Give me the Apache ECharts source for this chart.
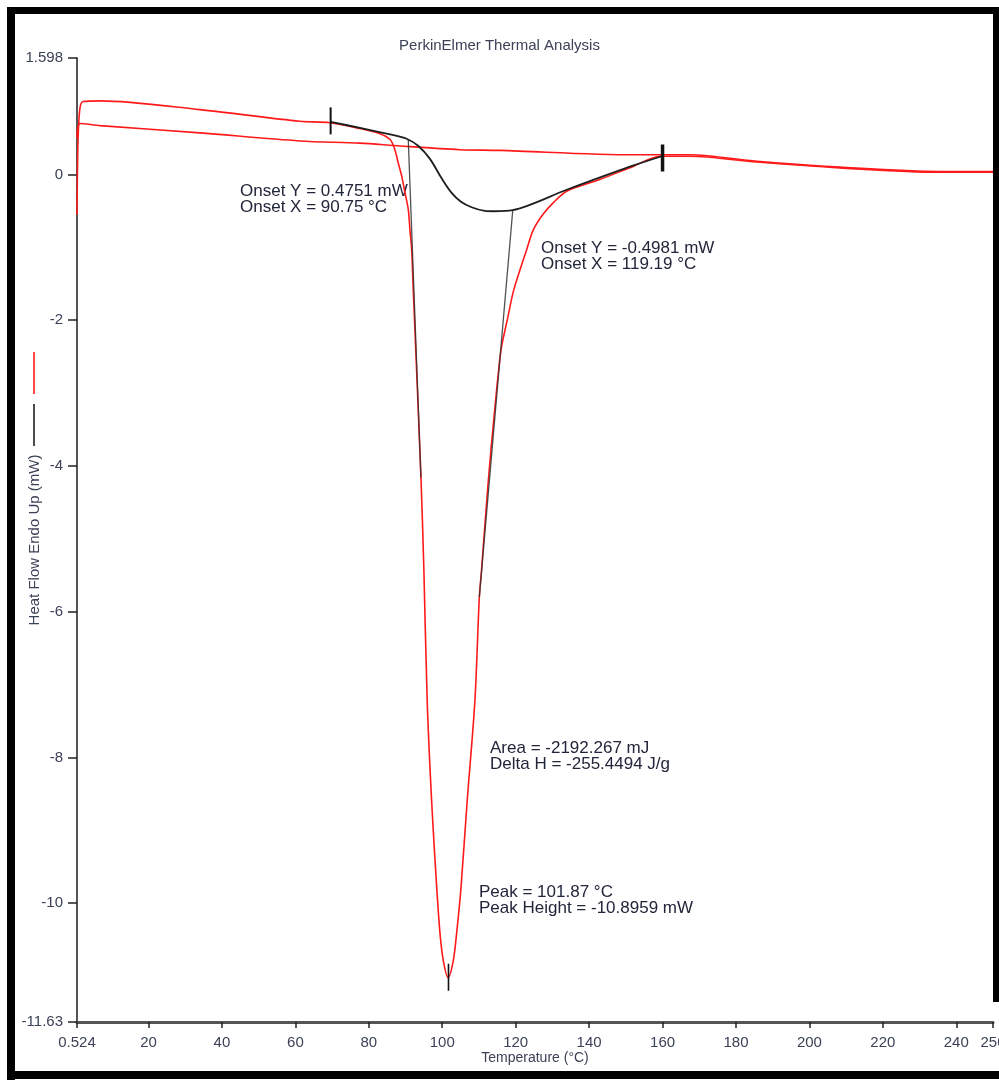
<!DOCTYPE html>
<html>
<head>
<meta charset="utf-8">
<script src="https://cdn.jsdelivr.net/npm/echarts@6/dist/echarts.min.js"></script>
<style>
html,body{margin:0;padding:0;background:#fff;}
#chart{width:999px;height:1080px;}
</style>
</head>
<body>
<div id="chart"></div>
<script>
// ---- Data ----
var run1Temp = [0.524,0.8,1.3,2.2,6.8,34.0,61.2,69.4,77.6,83.0,85.8,87.1,88.0,88.95,89.85,90.75,91.2,91.67,92.1,94.2,95.0,95.9,97.1,98.5,99.4,100.3,101.6,103.0,103.9,105.1,106.8,108.9,110.1,110.7,112.5,114.1,116.0,117.7,119.5,123.0,124.8,127.4,130.2,133.9,142.9,152.0,159.3,167.5,185.7,208.3,235.5,250];
var run1Flow = [-0.55,0.45,0.9,1.0,1.01,0.89,0.73,0.71,0.63,0.56,0.48,0.34,0.16,-0.02,-0.25,-0.48,-0.76,-1.03,-1.58,-4.15,-5.43,-7.22,-8.59,-9.79,-10.42,-10.79,-11.02,-10.79,-10.42,-9.79,-8.59,-7.22,-5.8,-5.43,-4.23,-3.33,-2.41,-2.0,-1.58,-1.03,-0.76,-0.55,-0.39,-0.23,-0.07,0.11,0.25,0.25,0.17,0.09,0.03,0.03];

var run2Temp = [0.524,1.34,6.8,34.0,61.2,77.6,88.5,104.8,115.7,152.0,159.3,167.5,185.7,208.3,235.5,250];
var run2Flow = [0.5,0.70,0.67,0.57,0.46,0.43,0.39,0.34,0.33,0.27,0.27,0.27,0.18,0.10,0.04,0.04];

var calcTemp = [69.6,77.6,85.8,90.3,93.5,96.7,99.8,102.5,105.0,108.0,111.6,114.0,119.19,133.9,151.9,159.8];
var calcFlow = [0.72,0.64,0.55,0.49,0.39,0.21,-0.05,-0.25,-0.37,-0.45,-0.50,-0.505,-0.49,-0.21,0.12,0.25];

var onset1Temp = [90.75,94.2];
var onset1Flow = [0.4751,-4.16];
var onset2Temp = [119.19,110.1];
var onset2Flow = [-0.4981,-5.8];

var startMarkTemp = [69.6,69.6];
var startMarkFlow = [0.92,0.55];
var endMarkTemp = [160,160];
var endMarkFlow = [0.41,0.04];
var peakMarkTemp = [101.7,101.7];
var peakMarkFlow = [-10.83,-11.2];

var xTicks = [0.524,20,40,60,80,100,120,140,160,180,200,220,240,250];
var yTicks = [1.598,0,-2,-4,-6,-8,-10,-11.63];

var titleText = 'PerkinElmer Thermal Analysis';
var xName = 'Temperature (\u00B0C)';
var yName = 'Heat Flow Endo Up (mW)';
var noteOnset1 = 'Onset Y = 0.4751 mW\nOnset X = 90.75 \u00B0C';
var noteOnset2 = 'Onset Y = -0.4981 mW\nOnset X = 119.19 \u00B0C';
var noteArea = 'Area = -2192.267 mJ\nDelta H = -255.4494 J/g';
var notePeak = 'Peak = 101.87 \u00B0C\nPeak Height = -10.8959 mW';

function pairs(xs, ys){ var o=[]; for (var i=0;i<xs.length;i++) o.push([xs[i], ys[i]]); return o; }

var FONT = '"Liberation Sans", Arial, sans-serif';
var labelColor = '#3b4257';
var noteStyle = {font: '17px ' + FONT, fill: '#22263a', lineHeight: 16};

var chart = echarts.init(document.getElementById('chart'), null, {renderer:'canvas'});
chart.setOption({
  animation: false,
  backgroundColor: '#ffffff',
  title: {
    text: titleText, left: 'center', top: 33,
    textStyle: {fontFamily: FONT, fontSize: 15, fontWeight: 'normal', color: '#3b4257'}
  },
  grid: {left: 77, right: 6, top: 58, bottom: 58, containLabel: false, outerBoundsMode: 'none'},
  xAxis: {
    type: 'value', min: 0.524, max: 250,
    name: xName, nameLocation: 'middle', nameGap: 29, nameMoveOverlap: false,
    nameTextStyle: {fontFamily: FONT, fontSize: 14, color: labelColor},
    axisLine: {onZero: false, lineStyle: {color: '#555', width: 3}},
    axisTick: {show: true, customValues: xTicks, length: 6, lineStyle: {color: '#222', width: 1.5}},
    axisLabel: {customValues: xTicks, margin: 13, fontFamily: FONT, fontSize: 15, color: labelColor,
      formatter: function(v){ return String(v); }},
    splitLine: {show: false}
  },
  yAxis: {
    type: 'value', min: -11.63, max: 1.598,
    name: yName, nameLocation: 'middle', nameGap: 35, nameRotate: 90, nameMoveOverlap: false,
    nameTextStyle: {fontFamily: FONT, fontSize: 15, color: labelColor},
    axisLine: {onZero: false, lineStyle: {color: '#555', width: 2}},
    axisTick: {show: true, customValues: yTicks, length: 9, lineStyle: {color: '#222', width: 1.5}},
    axisLabel: {customValues: yTicks, margin: 14, fontFamily: FONT, fontSize: 15, color: labelColor,
      formatter: function(v){ return String(v); }},
    splitLine: {show: false}
  },
  series: [
    {name: 'Run 2', type: 'line', data: pairs(run2Temp, run2Flow), showSymbol: false, smooth: 0.3,
      lineStyle: {color: '#ff1a1a', width: 1.6}, z: 2},
    {name: 'Run 1', type: 'line', data: pairs(run1Temp, run1Flow), showSymbol: false, smooth: 0.3,
      lineStyle: {color: '#ff1a1a', width: 1.6}, z: 3},
    {name: 'Calc', type: 'line', data: pairs(calcTemp, calcFlow), showSymbol: false, smooth: 0.3,
      lineStyle: {color: '#1e1e1e', width: 1.8}, z: 4},
    {name: 'Onset 1', type: 'line', data: pairs(onset1Temp, onset1Flow), showSymbol: false,
      lineStyle: {color: '#333', width: 1.3, opacity: 0.85}, z: 5},
    {name: 'Onset 2', type: 'line', data: pairs(onset2Temp, onset2Flow), showSymbol: false,
      lineStyle: {color: '#333', width: 1.3, opacity: 0.85}, z: 5},
    {name: 'Start', type: 'line', data: pairs(startMarkTemp, startMarkFlow), showSymbol: false,
      lineStyle: {color: '#111', width: 2}, z: 6},
    {name: 'End', type: 'line', data: pairs(endMarkTemp, endMarkFlow), showSymbol: false,
      lineStyle: {color: '#111', width: 3.5}, z: 6},
    {name: 'Peak', type: 'line', data: pairs(peakMarkTemp, peakMarkFlow), showSymbol: false,
      lineStyle: {color: '#111', width: 1.6}, z: 6}
  ],
  graphic: [
    {type: 'rect', shape: {x: 7, y: 7, width: 992, height: 7}, style: {fill: '#000'}},
    {type: 'rect', shape: {x: 7, y: 7, width: 8, height: 1073}, style: {fill: '#000'}},
    {type: 'rect', shape: {x: 7, y: 1071, width: 992, height: 8}, style: {fill: '#000'}},
    {type: 'rect', shape: {x: 993, y: 7, width: 6, height: 995}, style: {fill: '#000'}},
    {type: 'line', shape: {x1: 34, y1: 352, x2: 34, y2: 394}, style: {stroke: '#ff1a1a', lineWidth: 1.6}},
    {type: 'line', shape: {x1: 34, y1: 404, x2: 34, y2: 446}, style: {stroke: '#1e1e1e', lineWidth: 1.6}},
    {type: 'text', left: 240, top: 183, style: Object.assign({text: noteOnset1}, noteStyle)},
    {type: 'text', left: 541, top: 240, style: Object.assign({text: noteOnset2}, noteStyle)},
    {type: 'text', left: 490, top: 740, style: Object.assign({text: noteArea}, noteStyle)},
    {type: 'text', left: 479, top: 884, style: Object.assign({text: notePeak}, noteStyle)}
  ]
});
</script>
</body>
</html>
